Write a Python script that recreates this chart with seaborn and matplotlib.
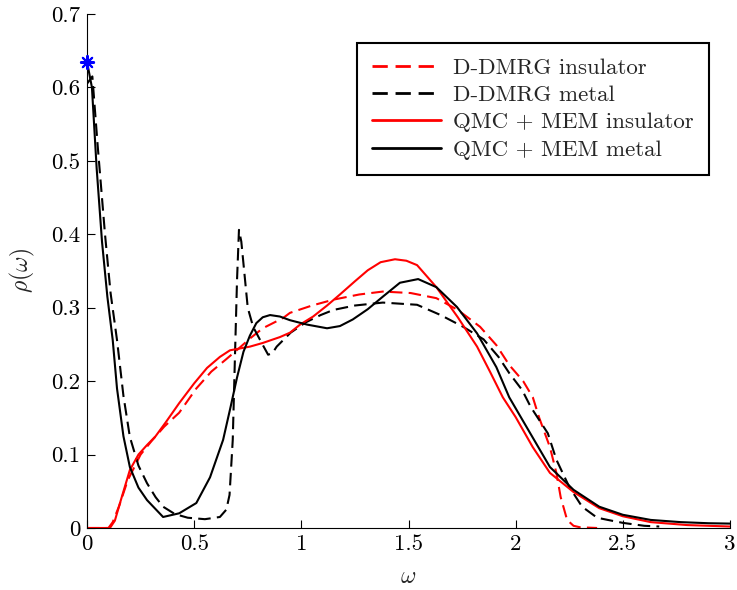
import numpy as np
import pandas as pd
import matplotlib
matplotlib.use("Agg")
import matplotlib.pyplot as plt
from matplotlib.lines import Line2D
import seaborn as sns

# ---- data ----
x_dmrg_ins = [0.0, 0.10, 0.12, 0.15, 0.19, 0.25, 0.30, 0.36, 0.43, 0.51, 0.58, 0.65, 0.71,
              0.76, 0.82, 0.915, 0.947, 1.05, 1.15, 1.27, 1.38, 1.51, 1.63, 1.73, 1.834,
              1.91, 1.97, 2.035, 2.08, 2.11, 2.16, 2.19, 2.21, 2.24, 2.27, 2.30, 2.38]
y_dmrg_ins = [0.0, 0.0, 0.008, 0.03, 0.065, 0.10, 0.118, 0.138, 0.157, 0.19, 0.213, 0.23, 0.245,
              0.258, 0.272, 0.286, 0.293, 0.303, 0.311, 0.318, 0.322, 0.32, 0.313, 0.297, 0.274,
              0.249, 0.222, 0.20, 0.178, 0.15, 0.11, 0.075, 0.042, 0.011, 0.003, 0.001, 0.0]

x_dmrg_met = [0.0, 0.025, 0.05, 0.084, 0.11, 0.14, 0.17, 0.20, 0.24, 0.28, 0.32, 0.355, 0.41,
              0.47, 0.55, 0.62, 0.65, 0.665, 0.68, 0.69, 0.70, 0.709, 0.72, 0.73, 0.75, 0.775,
              0.815, 0.845, 0.865, 0.885, 0.95, 1.02, 1.09, 1.15, 1.25, 1.38, 1.54, 1.65,
              1.755, 1.85, 1.92, 1.97, 2.03, 2.07, 2.15, 2.19, 2.25, 2.31, 2.38, 2.43, 2.50,
              2.60, 2.67]
y_dmrg_met = [0.605, 0.615, 0.52, 0.40, 0.32, 0.256, 0.18, 0.124, 0.085, 0.061, 0.042, 0.029, 0.019,
              0.014, 0.012, 0.015, 0.025, 0.045, 0.12, 0.23, 0.338, 0.406, 0.39, 0.36, 0.30, 0.274,
              0.252, 0.236, 0.238, 0.247, 0.266, 0.28, 0.29, 0.297, 0.303, 0.307, 0.304, 0.29,
              0.274, 0.257, 0.233, 0.211, 0.188, 0.165, 0.129, 0.093, 0.056, 0.029, 0.014, 0.011, 0.007,
              0.003, 0.002]

x_qmc_ins = [0.0, 0.107, 0.13, 0.16, 0.20, 0.24, 0.28, 0.32, 0.37, 0.43, 0.50, 0.56, 0.62, 0.667,
             0.76, 0.82, 0.90, 0.947, 0.994, 1.055, 1.12, 1.18, 1.25, 1.31, 1.37, 1.437, 1.49,
             1.54, 1.63, 1.73, 1.82, 1.88, 1.94, 2.00, 2.08, 2.16, 2.27, 2.39, 2.50, 2.63, 2.80, 3.0]
y_qmc_ins = [0.0, 0.0, 0.01, 0.04, 0.079, 0.10, 0.113, 0.125, 0.145, 0.17, 0.197, 0.218, 0.233, 0.242,
             0.247, 0.252, 0.26, 0.266, 0.277, 0.288, 0.303, 0.318, 0.336, 0.351, 0.362, 0.366, 0.364,
             0.358, 0.328, 0.287, 0.247, 0.213, 0.178, 0.151, 0.11, 0.075, 0.049, 0.027, 0.016, 0.008,
             0.004, 0.002]

x_qmc_met = [0.0, 0.023, 0.045, 0.07, 0.095, 0.12, 0.14, 0.17, 0.20, 0.24, 0.28, 0.355, 0.43, 0.51,
             0.574, 0.635, 0.67, 0.70, 0.73, 0.76, 0.79, 0.82, 0.854, 0.90, 0.947, 1.027, 1.12,
             1.18, 1.24, 1.31, 1.38, 1.46, 1.545, 1.63, 1.726, 1.82, 1.91, 1.97, 2.05, 2.16,
             2.27, 2.39, 2.50, 2.63, 2.77, 2.90, 3.0]
y_qmc_met = [0.635, 0.60, 0.49, 0.39, 0.315, 0.256, 0.19, 0.125, 0.083, 0.055, 0.038, 0.015, 0.02, 0.034,
             0.069, 0.12, 0.165, 0.205, 0.24, 0.262, 0.279, 0.287, 0.29, 0.288, 0.283, 0.277, 0.272,
             0.275, 0.284, 0.298, 0.315, 0.334, 0.339, 0.328, 0.301, 0.265, 0.219, 0.178, 0.138, 0.083,
             0.052, 0.029, 0.018, 0.011, 0.008, 0.0065, 0.006]

star_x = [0.0]
star_y = [0.635]

labels = ["D-DMRG insulator", "D-DMRG metal", "QMC + MEM insulator", "QMC + MEM metal"]
xticks = [0, 0.5, 1, 1.5, 2, 2.5, 3]
yticks = [0, 0.1, 0.2, 0.3, 0.4, 0.5, 0.6, 0.7]
xticklabels = ["0", "0.5", "1", "1.5", "2", "2.5", "3"]
yticklabels = ["0", "0.1", "0.2", "0.3", "0.4", "0.5", "0.6", "0.7"]

# ---- style ----
sns.set_style("ticks")
plt.rcParams["font.family"] = "serif"
plt.rcParams["font.serif"] = ["cmr10", "DejaVu Serif"]
plt.rcParams["mathtext.fontset"] = "cm"
plt.rcParams["axes.formatter.use_mathtext"] = True

fig = plt.figure(figsize=(7.37, 5.90), dpi=100)
ax = fig.add_axes([87 / 737, 62 / 590, 643 / 737, 514 / 590])

lw = 1.5
dash = (0, (6, 3))
series = [
    (x_dmrg_ins, y_dmrg_ins, "red", dash),
    (x_dmrg_met, y_dmrg_met, "black", dash),
    (x_qmc_ins, y_qmc_ins, "red", "-"),
    (x_qmc_met, y_qmc_met, "black", "-"),
]
for (xs, ys, c, ls), lab in zip(series, labels):
    df = pd.DataFrame({"w": xs, "rho": ys})
    sns.lineplot(data=df, x="w", y="rho", ax=ax, color=c, linestyle=ls, linewidth=lw,
                 estimator=None, sort=False, legend=False)

sns.scatterplot(x=star_x, y=star_y, ax=ax, marker=(8, 2, 0), s=90, color="blue",
                edgecolor="blue", linewidth=1.5, zorder=5, legend=False, clip_on=False)

ax.set_xlim(0, 3)
ax.set_ylim(0, 0.7)
ax.set_xticks(xticks)
ax.set_yticks(yticks)
ax.set_xticklabels(xticklabels)
ax.set_yticklabels(yticklabels)
ax.tick_params(direction="in", length=6, width=0.8, labelsize=16.5, colors="black", pad=5)
for s in ["top", "right"]:
    ax.spines[s].set_visible(False)
for s in ["left", "bottom"]:
    ax.spines[s].set_color("black")
    ax.spines[s].set_linewidth(0.8)

ax.set_xlabel(r"$\omega$", fontsize=17, labelpad=8)
ax.set_ylabel(r"$\rho(\omega)$", fontsize=17, labelpad=10)

handles = [
    Line2D([], [], color="red", linestyle=(0, (5.5, 2.8)), linewidth=2),
    Line2D([], [], color="black", linestyle=(0, (5.5, 2.8)), linewidth=2),
    Line2D([], [], color="red", linestyle="-", linewidth=2),
    Line2D([], [], color="black", linestyle="-", linewidth=2),
]
leg = ax.legend(handles, labels, loc="upper left", bbox_to_anchor=(0.42, 0.944),
                borderaxespad=0, fontsize=16.5, frameon=True, fancybox=False,
                edgecolor="black", framealpha=1, handlelength=3.0, labelspacing=0.32,
                handletextpad=0.55, borderpad=0.65)
leg.get_frame().set_linewidth(1.5)

fig.savefig("out.png", dpi=100)
